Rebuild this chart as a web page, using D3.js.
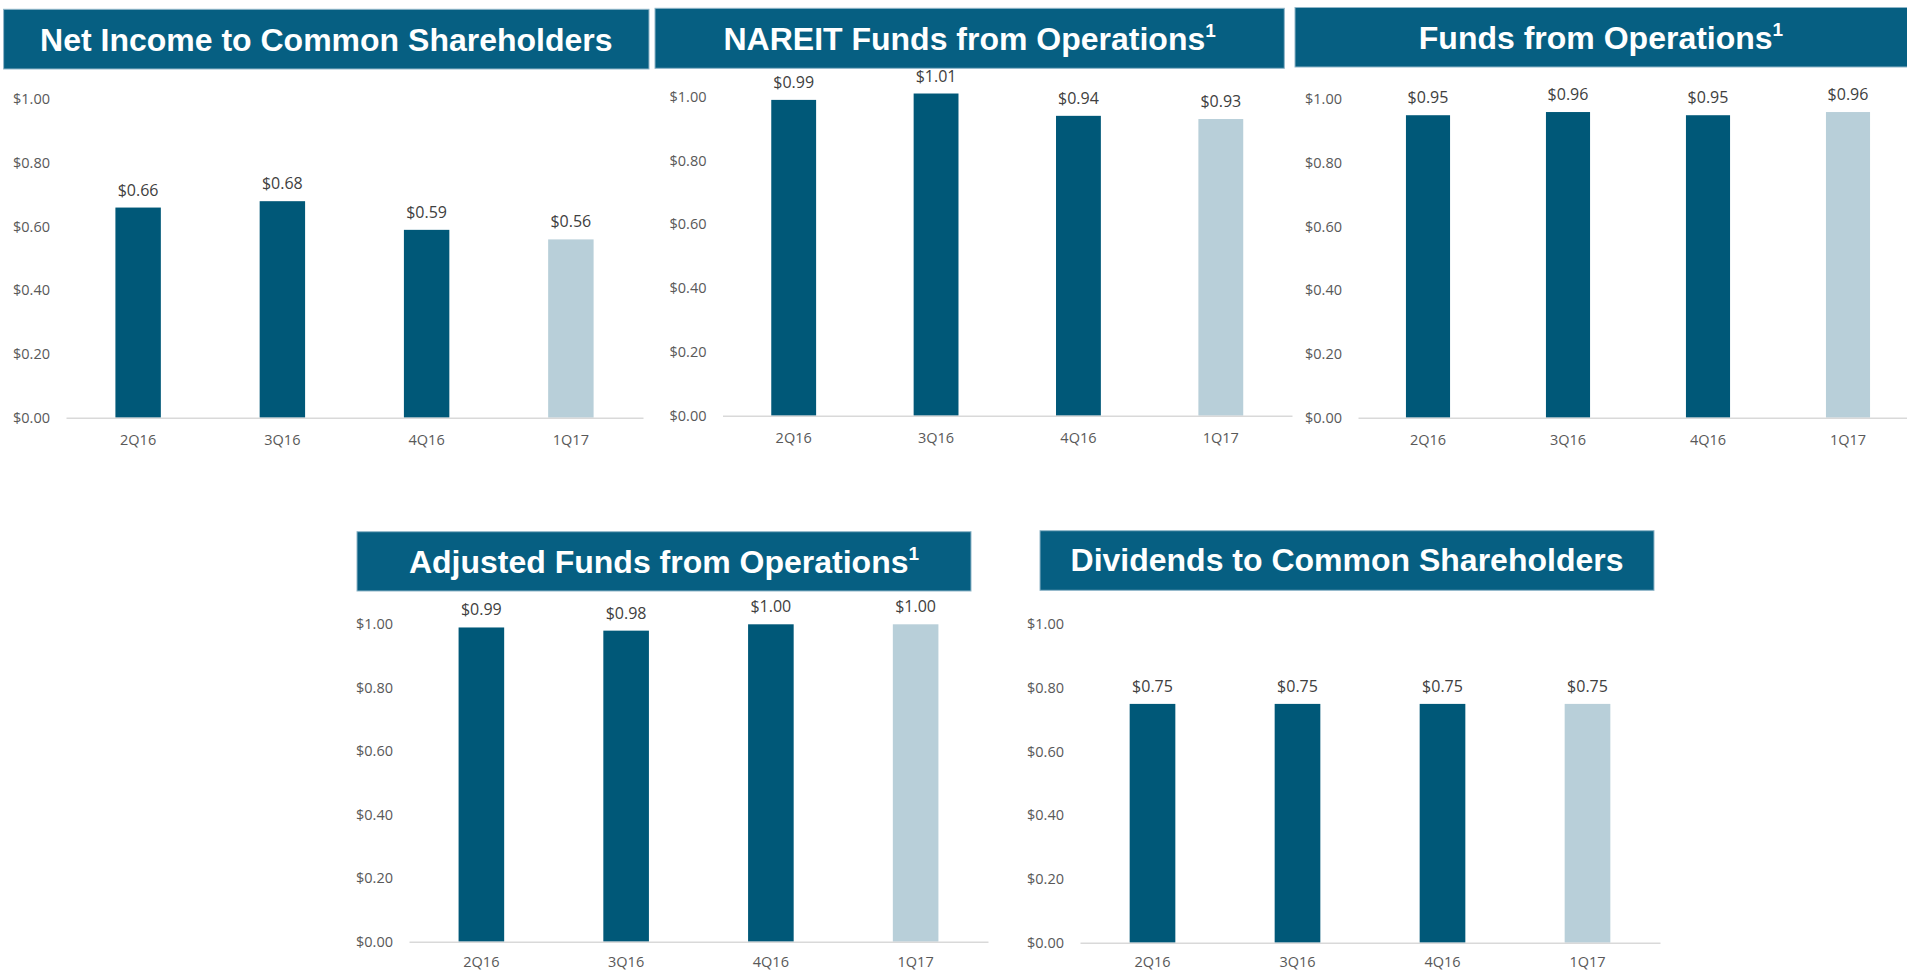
<!DOCTYPE html>
<html lang="en">
<head>
<meta charset="utf-8">
<title>per share results</title>
<script src="https://cdn.jsdelivr.net/npm/d3@7"></script>
<style>
  body { margin: 0; background: #fff; }
  .titre { font-family: "Liberation Sans", Arial, sans-serif; font-weight: bold; fill: #fff; }
  .val { font-family: "Open Sans", sans-serif; font-size: 16px; fill: #404040; }
  .axe text { font-family: "Open Sans", sans-serif; font-size: 14.5px; fill: #595959; }
  .axe .domain { stroke: #d9d9d9; stroke-width: 1.5px; }
</style>
</head>
<body>
<svg width="1907" height="972"></svg>
<script>
// data
const quarters = ["2Q16", "3Q16", "4Q16", "1Q17"];
const yTicks = [0, 0.2, 0.4, 0.6, 0.8, 1.0];
const netIncome = [0.66, 0.68, 0.59, 0.56];
const nareitFfo = [0.99, 1.01, 0.94, 0.93];
const ffo = [0.95, 0.96, 0.95, 0.96];
const affo = [0.99, 0.98, 1.00, 1.00];
const dividends = [0.75, 0.75, 0.75, 0.75];
const titles = [
  "Net Income to Common Shareholders",
  "NAREIT Funds from Operations",
  "Funds from Operations",
  "Adjusted Funds from Operations",
  "Dividends to Common Shareholders"
];
const footnote = [false, true, true, true, false];
const series = [netIncome, nareitFfo, ffo, affo, dividends];

// layout of each panel (box = title banner, x/y = plot area, lab = offset of quarter labels)
const layout = [
  {box: [3.6, 9.3, 649, 69], base: 51, x: [66, 643], y: [417.7, 99.3], lab: 22},
  {box: [655, 8.3, 1284.3, 68.3], base: 50, x: [722.5, 1292], y: [415.7, 96.7], lab: 22},
  {box: [1295, 7.5, 1912, 67], base: 48.5, x: [1358, 1918], y: [417.7, 99.3], lab: 22},
  {box: [357, 531.7, 971, 591], base: 573, x: [409, 988], y: [941.7, 624.3], lab: 20},
  {box: [1040, 530.7, 1654, 590.3], base: 571, x: [1080, 1660], y: [942.7, 624.3], lab: 19.5}
];

const dark = "#005878", light = "#b8cfd9", banner = "#065f82";
const fmt = d3.format("$.2f");

const svg = d3.select("svg");

series.forEach(function (vals, i) {
  const L = layout[i];
  const g = svg.append("g");

  // banner
  g.append("rect")
    .attr("x", L.box[0]).attr("y", L.box[1])
    .attr("width", L.box[2] - L.box[0]).attr("height", L.box[3] - L.box[1])
    .attr("fill", banner)
    .attr("stroke", "#8fb6c8").attr("stroke-width", 1);

  const t = g.append("text")
    .attr("class", "titre")
    .attr("x", (L.box[0] + Math.min(L.box[2], 1907)) / 2)
    .attr("y", L.base)
    .attr("text-anchor", "middle")
    .style("font-size", "32px")
    .text(titles[i]);
  if (footnote[i]) {
    t.append("tspan").attr("dy", -13).style("font-size", "19px").text("1");
  }

  // scales
  const x = d3.scaleBand().domain(quarters).range(L.x)
    .paddingInner(0.685).paddingOuter(0.3425);
  const y = d3.scaleLinear().domain([0, 1]).range(L.y);

  // axes
  const ay = g.append("g").attr("class", "axe")
    .attr("transform", "translate(" + L.x[0] + ",0)")
    .call(d3.axisLeft(y).tickValues(yTicks).tickFormat(fmt).tickSize(0).tickPadding(16));
  ay.select(".domain").remove();

  const ax = g.append("g").attr("class", "axe")
    .attr("transform", "translate(0," + L.y[0] + ")")
    .call(d3.axisBottom(x).tickSize(0).tickSizeOuter(0).tickPadding(0));
  ax.selectAll("text").attr("y", L.lab).attr("dy", "0.35em");

  // bars
  g.selectAll(".bar")
    .data(vals)
    .join("rect")
    .attr("class", "bar")
    .attr("x", function (d, j) { return x(quarters[j]); })
    .attr("width", x.bandwidth())
    .attr("y", function (d) { return y(d); })
    .attr("height", function (d) { return y(0) - y(d); })
    .attr("fill", function (d, j) { return j === quarters.length - 1 ? light : dark; });

  // value labels
  g.selectAll(".val")
    .data(vals)
    .join("text")
    .attr("class", "val")
    .attr("x", function (d, j) { return x(quarters[j]) + x.bandwidth() / 2; })
    .attr("y", function (d) { return y(d) - 12; })
    .attr("text-anchor", "middle")
    .text(function (d) { return fmt(d); });

  // axis line drawn over the bar bottoms
  ax.raise();
});
</script>
</body>
</html>
